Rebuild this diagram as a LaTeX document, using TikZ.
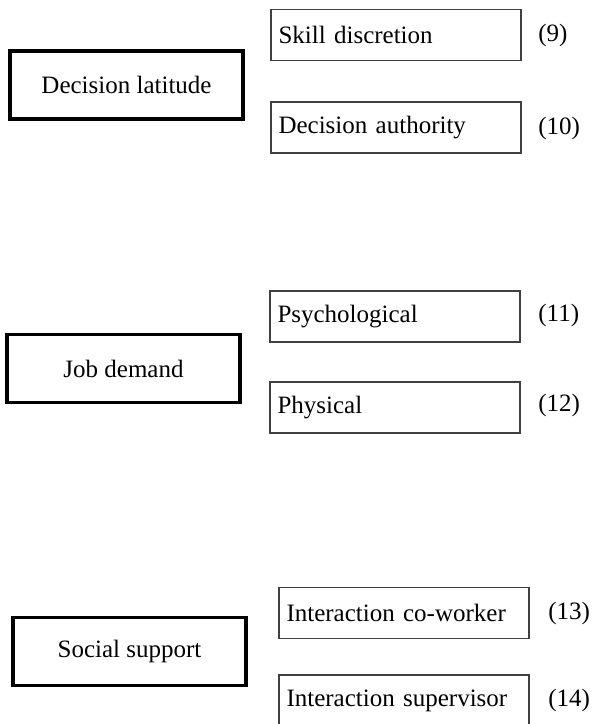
\documentclass[tikz,border=0pt]{standalone}
\usepackage{fontspec}
\setmainfont{Liberation Serif}

\begin{document}
\begin{tikzpicture}[x=0.5pt, y=-0.5pt,
    every node/.style={font=\fontsize{12.5}{15}\selectfont},
    mainbox/.style={draw=black, line width=1.6pt, rectangle,
        minimum width=116.5pt, minimum height=34pt, inner sep=0pt},
    subbox/.style={draw=black!75, line width=0.65pt, rectangle,
        text width=117.5pt, align=left, inner xsep=3.75pt, inner ysep=0pt,
        minimum height=25.5pt},
    numlabel/.style={anchor=west, inner sep=0pt}]

                %----- PAGE SIZE -----
                \useasboundingbox (0,0) rectangle (591,724);

                %----- DECISION LATITUDE -----
                \node[mainbox] (latitude) at (126.5,85) {Decision latitude};
                \node[subbox] (skill) at (396,35) {Skill discretion};
                \node[subbox] (authority) at (396,127.5) {Decision authority};
                \node[numlabel] (n9) at (538,35) {(9)};
                \node[numlabel] (n10) at (538,128) {(10)};

                %----- JOB DEMAND -----
                \node[mainbox] (demand) at (123.5,368.5) {Job demand};
                \node[subbox] (psycho) at (395,316.5) {Psychological};
                \node[subbox] (physical) at (395,407.5) {Physical};
                \node[numlabel] (n11) at (538,315) {(11)};
                \node[numlabel] (n12) at (538,405) {(12)};

                %----- SOCIAL SUPPORT -----
                \node[mainbox] (support) at (129.5,651.5) {Social support};
                \node[subbox] (coworker) at (404,613) {Interaction co-worker};
                % lower box runs past the bottom edge
                \node[subbox] (supervisor) at (404,700.5) {Interaction supervisor};
                \node[numlabel] (n13) at (548,613) {(13)};
                \node[numlabel] (n14) at (548,700) {(14)};

\end{tikzpicture}
\end{document}
